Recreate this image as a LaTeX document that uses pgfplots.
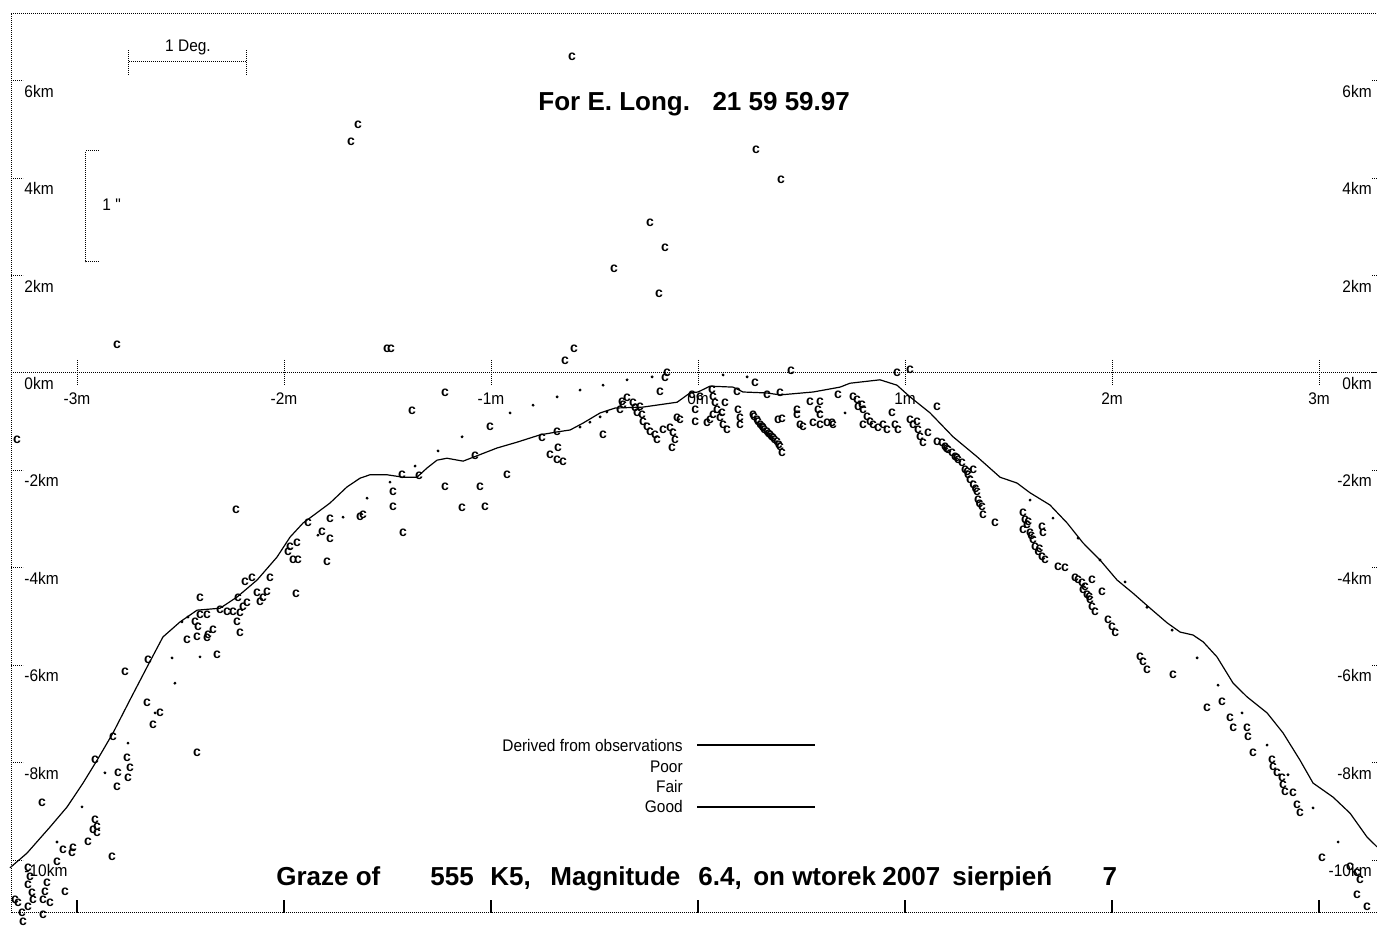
\documentclass[border=0pt]{standalone}
\usepackage{fontspec}
\setmainfont{Liberation Sans}
\newfontfamily\lblfont{Liberation Sans}[FakeStretch=0.92]
\usepackage{pgfplots}
\usepackage{pgfplotstable}
\pgfplotsset{compat=1.18}

% limb profile derived from observations (minutes, km)
\pgfplotstableread{
m km
-3.324 -10.16
-3.242 -9.86
-3.130 -9.32
-3.048 -8.91
-2.971 -8.42
-2.903 -7.95
-2.826 -7.39
-2.744 -6.71
-2.662 -6.04
-2.585 -5.42
-2.502 -5.11
-2.420 -4.87
-2.309 -4.83
-2.227 -4.60
-2.130 -4.25
-2.034 -3.78
-1.971 -3.37
-1.908 -3.08
-1.841 -2.87
-1.778 -2.67
-1.696 -2.34
-1.633 -2.16
-1.585 -2.09
-1.502 -2.09
-1.425 -2.14
-1.358 -2.14
-1.309 -1.95
-1.261 -1.79
-1.213 -1.75
-1.135 -1.81
-1.068 -1.70
-0.971 -1.54
-0.874 -1.42
-0.763 -1.27
-0.681 -1.21
-0.618 -1.17
-0.556 -1.03
-0.473 -0.82
-0.401 -0.72
-0.266 -0.70
-0.101 -0.60
-0.039 -0.41
0.000 -0.39
0.058 -0.27
0.169 -0.29
0.217 -0.39
0.333 -0.41
0.396 -0.45
0.556 -0.39
0.686 -0.29
0.734 -0.21
0.879 -0.14
0.961 -0.25
1.024 -0.49
1.121 -0.82
1.232 -1.31
1.348 -1.72
1.459 -2.14
1.541 -2.26
1.604 -2.46
1.700 -2.71
1.783 -3.08
1.860 -3.49
1.942 -3.84
2.024 -4.25
2.101 -4.52
2.184 -4.83
2.266 -5.13
2.329 -5.32
2.391 -5.38
2.440 -5.52
2.507 -5.83
2.585 -6.37
2.652 -6.65
2.749 -6.98
2.826 -7.39
2.908 -7.95
2.971 -8.42
3.068 -8.71
3.150 -9.04
3.232 -9.53
3.280 -9.73
}\profile

% observed events ("c" marks)
\pgfplotstableread{
m km
-0.609 6.49
-1.643 5.09
-1.676 4.74
0.280 4.58
0.401 3.96
-0.232 3.08
-0.159 2.57
-0.406 2.14
-0.188 1.62
-2.807 0.58
-1.502 0.49
-1.483 0.49
-0.599 0.49
-0.643 0.25
0.449 0.04
-0.150 0.00
-0.159 -0.10
0.961 0.00
1.024 0.06
0.275 -0.21
-0.184 -0.39
-3.290 -1.38
-2.232 -2.81
-1.942 -4.54
-2.188 -4.29
-2.155 -4.21
-2.068 -4.21
-2.406 -4.62
-2.222 -4.62
-2.130 -4.52
-2.082 -4.50
-2.101 -4.62
-2.116 -4.70
-2.179 -4.72
-2.198 -4.81
-2.309 -4.87
-2.275 -4.91
-2.246 -4.91
-2.213 -4.93
-2.406 -4.97
-2.372 -4.97
-2.430 -5.11
-2.416 -5.22
-2.227 -5.11
-2.343 -5.28
-2.367 -5.38
-2.372 -5.44
-2.420 -5.42
-2.469 -5.48
-2.213 -5.34
-2.324 -5.79
-2.657 -5.89
-2.768 -6.14
-2.662 -6.78
-2.599 -6.98
-2.633 -7.23
-2.826 -7.47
-2.420 -7.80
-2.913 -7.95
-2.758 -7.91
-2.744 -8.11
-2.802 -8.21
-2.754 -8.32
-2.807 -8.50
-3.169 -8.83
-2.913 -9.18
-2.903 -9.32
-2.903 -9.45
-2.923 -9.38
-2.947 -9.63
-3.068 -9.80
-3.019 -9.75
-3.024 -9.86
-2.831 -9.94
-3.097 -10.04
-3.237 -10.16
-3.227 -10.35
-3.237 -10.51
-3.217 -10.68
-3.213 -10.82
-3.145 -10.47
-3.155 -10.66
-3.058 -10.66
-3.300 -10.82
-3.285 -10.88
-3.237 -10.97
-3.164 -10.82
-3.130 -10.88
-3.266 -11.09
-3.164 -11.13
-3.261 -11.27
-1.222 -0.41
-1.382 -0.78
-1.005 -1.11
-0.754 -1.34
-0.681 -1.21
-0.676 -1.54
-0.715 -1.68
-0.681 -1.79
-0.652 -1.83
-1.077 -1.70
-0.923 -2.09
-1.430 -2.09
-1.348 -2.12
-1.222 -2.34
-1.053 -2.34
-1.473 -2.44
-1.473 -2.75
-1.140 -2.77
-1.029 -2.75
-1.633 -2.96
-1.618 -2.92
-1.778 -3.00
-1.884 -3.08
-1.816 -3.27
-1.778 -3.41
-1.425 -3.29
-1.937 -3.49
-1.971 -3.57
-1.981 -3.68
-1.957 -3.84
-1.932 -3.84
-1.792 -3.88
-0.367 -0.60
-0.362 -0.66
-0.377 -0.76
-0.343 -0.51
-0.314 -0.62
-0.304 -0.72
-0.280 -0.70
-0.295 -0.82
-0.271 -0.86
-0.266 -1.01
-0.246 -1.11
-0.232 -1.21
-0.208 -1.27
-0.198 -1.38
-0.169 -1.17
-0.135 -1.13
-0.121 -1.23
-0.111 -1.38
-0.126 -1.54
-0.459 -1.27
-0.101 -0.92
-0.087 -0.97
-0.014 -0.76
-0.014 -1.01
-0.029 -0.45
0.010 -0.49
0.068 -0.35
0.072 -0.49
0.082 -0.62
0.092 -0.76
0.072 -0.86
0.106 -0.92
0.058 -0.97
0.043 -1.03
0.121 -1.07
0.140 -1.17
0.116 -0.82
0.130 -0.62
0.193 -0.76
0.203 -0.92
0.203 -1.07
0.266 -0.86
0.285 -0.97
0.300 -1.07
0.314 -1.13
0.333 -1.21
0.348 -1.27
0.362 -1.34
0.382 -1.42
0.396 -1.52
0.406 -1.64
0.270 -0.90
0.290 -1.00
0.310 -1.10
0.320 -1.16
0.340 -1.24
0.355 -1.30
0.370 -1.38
0.390 -1.47
0.386 -0.97
0.406 -0.94
0.478 -0.86
0.493 -1.07
0.478 -0.76
0.541 -0.60
0.589 -0.60
0.580 -0.76
0.589 -0.86
0.556 -1.03
0.589 -1.07
0.623 -1.03
0.652 -1.07
0.507 -1.11
0.396 -0.41
0.333 -0.45
0.188 -0.39
0.676 -0.45
0.749 -0.49
0.768 -0.55
0.792 -0.66
0.773 -0.70
0.797 -0.76
0.647 -1.03
0.816 -0.90
0.831 -1.01
0.797 -1.07
0.845 -1.07
0.870 -1.13
0.894 -1.07
0.913 -1.17
0.937 -0.82
0.952 -1.07
0.966 -1.17
1.024 -0.97
1.039 -1.07
1.058 -1.01
1.063 -1.17
1.072 -1.31
1.087 -1.44
1.111 -1.23
1.155 -0.70
1.155 -1.42
1.179 -1.44
1.193 -1.52
1.208 -1.58
1.227 -1.64
1.242 -1.72
1.256 -1.79
1.275 -1.85
1.290 -1.99
1.304 -2.09
1.329 -1.99
1.314 -2.20
1.329 -2.30
1.348 -2.44
1.353 -2.61
1.372 -2.75
1.377 -2.92
1.435 -3.08
1.200 -1.55
1.250 -1.75
1.300 -2.03
1.340 -2.37
1.360 -2.68
1.570 -2.88
1.580 -3.02
1.589 -3.12
1.570 -3.22
1.604 -3.29
1.618 -3.43
1.628 -3.57
1.643 -3.68
1.662 -3.78
1.676 -3.84
1.662 -3.16
1.667 -3.29
1.595 -3.05
1.610 -3.35
1.650 -3.60
1.739 -3.98
1.773 -4.00
1.821 -4.21
1.836 -4.25
1.855 -4.31
1.860 -4.46
1.879 -4.56
1.894 -4.66
1.903 -4.81
1.918 -4.91
1.903 -4.25
1.952 -4.50
1.870 -4.40
1.890 -4.60
1.981 -5.07
2.000 -5.22
2.015 -5.34
2.135 -5.83
2.150 -5.93
2.169 -6.10
2.295 -6.20
2.459 -6.88
2.531 -6.76
2.570 -7.08
2.585 -7.29
2.652 -7.29
2.657 -7.47
2.681 -7.80
2.773 -7.95
2.778 -8.09
2.797 -8.21
2.821 -8.32
2.826 -8.46
2.836 -8.60
2.874 -8.62
2.894 -8.87
2.908 -9.04
3.014 -9.96
3.150 -10.14
3.184 -10.27
3.198 -10.41
3.184 -10.72
3.232 -10.97
}\events

% single points (dots)
\pgfplotstableread{
m km
-2.541 -5.85
-2.406 -5.83
-2.527 -6.37
-2.623 -6.98
-2.754 -7.60
-2.865 -8.21
-2.976 -8.91
-3.097 -9.63
-2.493 -5.11
-2.464 -5.01
-0.908 -0.82
-0.797 -0.66
-0.681 -0.49
-0.570 -0.35
-1.140 -1.31
-1.256 -1.60
-1.367 -1.91
-1.488 -2.24
-1.599 -2.57
-1.715 -2.96
-1.836 -3.33
-0.570 -1.11
-0.522 -1.01
-0.473 -0.90
-0.440 -0.80
-0.459 -0.25
-0.343 -0.14
-0.222 -0.08
0.121 -0.04
0.237 -0.08
0.710 -0.82
1.604 -2.61
1.715 -2.98
1.836 -3.39
1.942 -3.84
2.063 -4.29
2.169 -4.81
2.290 -5.28
2.411 -5.85
2.512 -6.41
2.628 -6.98
2.749 -7.64
2.850 -8.25
2.971 -8.93
3.092 -9.63
}\dotpts

\begin{document}
\begin{tikzpicture}
\useasboundingbox (0,0) rectangle (688.5pt,465pt);
\begin{axis}[
  at={(5.5pt,8.5pt)}, anchor=south west,
  x=103.5pt, y=24.35pt,
  xmin=-3.319, xmax=3.30, ymin=-11.088, ymax=7.392,
  xtick=\empty, ytick=\empty,
  axis line style={line width=0.5pt, dash pattern=on 0.5pt off 0.5pt},
  clip=false,
]
% zero line and ticks
\draw[line width=0.5pt, dash pattern=on 0.5pt off 0.5pt] (axis cs:-3.319,0) -- (axis cs:3.30,0);
\pgfplotsinvokeforeach{-3,-2,-1,0,1,2,3}{
  \draw[line width=0.5pt, dash pattern=on 0.5pt off 0.5pt] (axis cs:#1,0.27) -- (axis cs:#1,-0.25);
  \draw[line width=0.6pt] (axis cs:#1,-11.088) -- (axis cs:#1,-10.82);
  \node[anchor=north, inner sep=0pt, font=\lblfont\fontsize{8.4}{9}\selectfont] at (axis cs:#1,-0.40) {#1m};
}
\pgfplotsinvokeforeach{-10,-8,-6,-4,-2,0,2,4,6}{
  \draw[line width=0.5pt, dash pattern=on 0.5pt off 0.5pt] (axis cs:-3.319,#1) -- (axis cs:-3.261,#1);
  \draw[line width=0.5pt, dash pattern=on 0.5pt off 0.5pt] (axis cs:3.256,#1) -- (axis cs:3.30,#1);
  \node[anchor=north west, inner sep=0pt, font=\lblfont\fontsize{8.4}{9}\selectfont] at (axis cs:-3.256,#1-0.08) {#1km};
  \node[anchor=north east, inner sep=0pt, font=\lblfont\fontsize{8.4}{9}\selectfont] at (axis cs:3.256,#1-0.08) {#1km};
}
% scale bars
\draw[line width=0.5pt, dash pattern=on 0.5pt off 0.5pt] (axis cs:-2.749,6.63) -- (axis cs:-2.749,6.12)
  (axis cs:-2.179,6.63) -- (axis cs:-2.179,6.12) (axis cs:-2.749,6.39) -- (axis cs:-2.179,6.39);
\node[inner sep=0pt, font=\lblfont\fontsize{8.4}{9}\selectfont] at (axis cs:-2.464,6.69) {1 Deg.};
\draw[line width=0.5pt, dash pattern=on 0.5pt off 0.5pt] (axis cs:-2.894,4.56) -- (axis cs:-2.957,4.56)
  -- (axis cs:-2.957,2.28) -- (axis cs:-2.894,2.28);
\node[anchor=west, inner sep=0pt, font=\lblfont\fontsize{8.4}{9}\selectfont] at (axis cs:-2.879,3.45) {1 \char34};

\addplot[black, line width=0.6pt, mark=none] table[x=m, y=km] {\profile};
\addplot[only marks, mark=text, text mark={c}, text mark as node=true,
  text mark style={inner sep=0pt, font=\bfseries\fontsize{7}{7}\selectfont}] table[x=m, y=km] {\events};
\addplot[only marks, mark=*, mark size=0.5pt, black] table[x=m, y=km] {\dotpts};

% titles
\node[anchor=base west, inner sep=0pt, font=\bfseries\fontsize{13}{15}\selectfont] at (axis cs:-0.773,5.40) {For E. Long.};
\node[anchor=base west, inner sep=0pt, font=\bfseries\fontsize{13}{15}\selectfont] at (axis cs:0.068,5.40) {21 59 59.97};
\begin{scope}[every node/.style={anchor=base west, inner sep=0pt, font=\bfseries\fontsize{13}{15}\selectfont}]
\node at (axis cs:-2.039,-10.53) {Graze of};
\node at (axis cs:-1.295,-10.53) {555};
\node at (axis cs:-1.005,-10.53) {K5,};
\node at (axis cs:-0.715,-10.53) {Magnitude};
\node at (axis cs:0.0,-10.53) {6.4,};
\node at (axis cs:0.265,-10.53) {on wtorek};
\node at (axis cs:0.889,-10.53) {2007};
\node at (axis cs:1.227,-10.53) {sierpień};
\node at (axis cs:1.952,-10.53) {7};
\end{scope}
% legend
\begin{scope}[every node/.style={anchor=east, inner sep=0pt, font=\lblfont\fontsize{8.4}{9}\selectfont}]
\node at (axis cs:-0.072,-7.64) {Derived from observations};
\node at (axis cs:-0.072,-8.09) {Poor};
\node at (axis cs:-0.072,-8.50) {Fair};
\node at (axis cs:-0.072,-8.91) {Good};
\end{scope}
\draw[line width=0.6pt] (axis cs:-0.005,-7.64) -- (axis cs:0.565,-7.64);
\draw[line width=0.6pt] (axis cs:-0.005,-8.91) -- (axis cs:0.565,-8.91);
\end{axis}
\end{tikzpicture}
\end{document}
